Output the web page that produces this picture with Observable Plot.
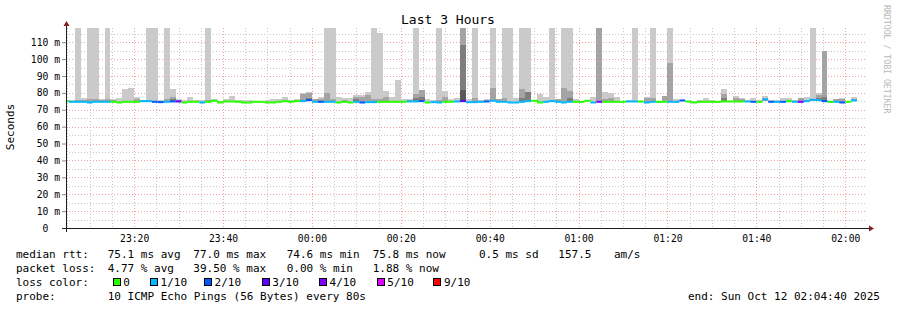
<!DOCTYPE html>
<html><head><meta charset="utf-8">
<script src="https://cdn.jsdelivr.net/npm/d3@7"></script>
<script src="https://cdn.jsdelivr.net/npm/@observablehq/plot@0.6"></script>
<style>
body{margin:0;background:#fff;}
#wrap{position:relative;width:897px;height:310px;overflow:hidden;background:#fff;}
#wrap svg{position:absolute;left:0;top:0;}
</style></head><body><div id="wrap"></div>
<script>
const _ = null;
// ---- data ----
const windowStart = "2025-10-11T23:04:40";
const windowEnd = "2025-10-12T02:04:40";
const firstBinStart = "2025-10-11T23:04:00";
const stepSeconds = 80;
const yMaxMs = 118.4;
// loss category per bin (0,1,2,3,4,5,9 tenths)
const lossCat = [
0,1,1,1,1,1,1,1,0,0, 0,0,0,1,1,2,2,1,2,3, 0,0,0,1,0,0,0,0,0,0,
0,0,0,0,0,0,0,0,0,0, 1,2,1,2,1,1,0,0,0,1, 2,1,1,0,0,0,0,0,1,1,
2,0,1,1,0,0,1,3,1,1, 1,2,1,1,1,1,1,1,1,0, 0,1,1,1,1,1,0,0,0,1,
4,0,0,0,0,1,1,0,1,1, 0,0,1,1,2,0,0,0,0,0, 0,0,0,0,0,1,2,0,1,2,
1,2,0,1,4,1,1,1,2,0, 1,2,0,1];
// median rtt per bin (ms)
const medianMs = [
75.4,75.0,75.0,75.0,74.6,75.0,75.0,75.0,75.0,74.6, 75.0,75.0,75.0,75.4,75.4,75.0,74.8,75.0,75.2,75.2,
74.6,75.0,75.0,74.6,75.0,75.6,74.6,75.2,75.2,75.0, 74.6,74.6,75.0,75.0,74.6,74.6,75.0,75.4,75.0,75.4,
75.4,76.0,75.0,75.0,75.0,75.0,74.6,75.0,74.6,75.0, 74.6,74.8,74.8,75.0,75.0,75.0,75.0,75.0,75.2,75.2,
75.4,74.6,74.8,74.6,75.0,75.0,75.2,75.4,74.8,74.8, 75.0,75.2,75.6,75.0,75.0,74.6,74.6,75.0,75.4,75.6,
74.6,75.0,75.4,75.0,74.6,75.0,75.0,75.0,75.6,74.6, 75.0,75.0,75.0,75.0,75.0,75.2,75.2,75.2,74.6,75.0,
75.0,75.0,75.0,75.0,75.8,75.2,74.6,75.0,75.0,75.0, 75.0,75.2,75.2,75.2,75.2,75.2,75.0,75.0,76.4,75.0,
75.0,75.0,75.4,75.0,75.0,75.4,76.2,76.0,75.4,75.0, 75.0,74.6,75.0,75.8];
// fastest ping per bin (ms)
const minMs = [
75.0,74.8,74.8,74.8,74.4,74.8,74.8,74.8,74.8,74.4, 74.8,74.8,74.8,74.6,75.0,74.8,74.6,74.8,75.0,75.0,
74.4,74.8,74.8,74.4,74.8,75.2,74.4,75.0,75.0,74.8, 74.4,74.4,74.8,74.8,74.4,74.4,74.8,75.0,74.8,75.0,
75.0,75.6,74.8,74.8,74.8,74.8,74.4,74.8,74.4,74.8, 74.4,74.6,74.6,74.8,74.8,74.8,74.8,74.8,75.0,75.0,
75.0,74.4,74.6,74.4,74.8,74.8,75.0,75.0,74.6,74.6, 74.8,75.0,75.2,74.8,74.8,74.4,74.4,74.8,75.0,75.2,
74.4,74.8,75.0,74.8,74.4,74.8,74.8,74.8,75.2,74.4, 74.8,74.8,74.8,74.8,74.8,75.0,75.0,75.0,74.2,74.8,
74.0,74.8,74.8,74.2,75.4,75.0,74.4,74.8,74.8,74.3, 74.2,75.0,75.0,75.0,75.0,75.0,74.8,74.8,75.0,74.8,
74.0,74.8,75.0,74.8,74.8,75.0,75.4,75.2,74.8,74.2, 74.8,74.2,74.8,75.4];
// smoke: top of outer band (slowest ping), values above the graph are > 118 ms
const smoke1 = [
75.8,75.8,130,77.0,130,130,76.4,130,76.4,76.8, 82.2,83.0,77.6,76.0,130,130,76.0,130,82.2,76.3,
75.8,77.6,75.8,75.8,130,76.2,75.4,76.4,78.3,75.8, 75.8,75.8,_,_,75.6,76.2,76.6,77.6,75.8,76.6,
80.0,80.6,76.6,77.6,130,130,77.6,77.0,77.0,79.0, 79.0,80.6,130,115.6,81.2,77.6,87.7,76.6,76.2,130,
81.8,76.2,75.6,130,81.2,76.6,77.0,130,76.4,130, 76.0,76.4,130,76.6,130,130,77.0,130,130,76.0,
79.6,77.6,130,76.6,130,130,76.2,_,_,77.6, 130,80.6,80.0,77.6,_,75.6,130,_,77.6,130,
75.4,78.3,130,76.2,76.0,_,_,76.0,76.8,76.0, 75.4,82.5,_,78.3,77.0,75.8,77.0,76.0,78.3,76.0,
75.6,77.0,76.8,75.8,77.0,77.6,130,80.0,104.8,75.4, 76.4,77.0,_,77.6];
// second band (2nd slowest ping)
const smoke2 = [
_,_,76.0,75.9,76.3,76.6,76.0,76.6,75.8,_, _,_,76.3,_,75.8,_,_,76.4,77.6,76.0,
_,_,_,_,76.0,_,_,_,_,_, _,_,_,_,_,_,_,_,_,_,
79.6,80.2,76.2,76.6,79.8,76.4,_,76.0,_,77.6, 77.6,79.0,76.6,76.6,77.6,_,_,_,75.8,79.2,
81.8,_,_,75.8,77.6,_,_,130,_,77.0, _,_,83.0,76.4,77.0,_,_,82.5,80.6,_,
_,_,76.0,76.2,82.6,81.2,_,_,_,_, 130,76.2,77.0,_,_,_,_,_,76.8,77.0,
_,78.3,97.7,_,_,_,_,_,_,_, _,79.2,_,77.0,76.5,_,_,_,77.0,_,
_,_,_,_,77.0,_,76.6,78.6,104.8,_, 76.4,76.6,_,76.4];
// third band
const smoke3 = [
_,_,_,_,_,_,_,_,_,_, _,_,_,_,_,_,_,_,76.5,_,
_,_,_,_,_,_,_,_,_,_, _,_,_,_,_,_,_,_,_,_,
_,77.0,_,_,_,_,_,_,_,76.4, _,_,_,_,_,_,_,_,_,77.0,
77.6,_,_,_,_,_,_,108.6,_,_, _,_,_,_,_,_,_,77.0,80.4,_,
_,_,_,_,_,77.0,_,_,_,_, _,_,_,_,_,_,_,_,_,_,
_,_,_,_,_,_,_,_,_,_, _,77.0,_,_,_,_,_,_,_,_,
_,_,_,_,_,_,_,77.0,77.6,_, _,_,_,_];
// fourth band
const smoke4 = [
_,_,_,_,_,_,_,_,_,_, _,_,_,_,_,_,_,_,_,_,
_,_,_,_,_,_,_,_,_,_, _,_,_,_,_,_,_,_,_,_,
_,_,_,_,_,_,_,_,_,_, _,_,_,_,_,_,_,_,_,_,
_,_,_,_,_,_,_,81.6,_,_, _,_,_,_,_,_,_,_,_,_,
_,_,_,_,_,_,_,_,_,_, _,_,_,_,_,_,_,_,_,_,
_,_,_,_,_,_,_,_,_,_, _,_,_,_,_,_,_,_,_,_,
_,_,_,_,_,_,_,_,_,_, _,_,_,_];
const majorTicks = ["2025-10-11T23:20","2025-10-11T23:40","2025-10-12T00:00","2025-10-12T00:20",
  "2025-10-12T00:40","2025-10-12T01:00","2025-10-12T01:20","2025-10-12T01:40","2025-10-12T02:00"];
const yMajor = [10,20,30,40,50,60,70,80,90,100,110];
const yMinor = [5,15,25,35,45,55,65,75,85,95,105,115];
const yTicks = [0,10,20,30,40,50,60,70,80,90,100,110];
const lossLevels = ["0","1/10","2/10","3/10","4/10","5/10","9/10"];
const lossKeys = [0,1,2,3,4,5,9];
const lossColors = ["#26ff00","#00b8ff","#0059ff","#5e00ff","#7e00ff","#dd00ff","#ff0000"];
const bandColors = ["#cacaca","#a4a4a4","#7e7e7e","#585858"];
const rttStats = ["75.1","77.0","74.6","75.8"];
const rttSd = "0.5";
const amS = "157.5";
const lossStats = ["4.77","39.50","0.00","1.88"];
const probeText = "10 ICMP Echo Pings (56 Bytes) every 80s";
const endText = "end: Sun Oct 12 02:04:40 2025";
const titleText = "Last 3 Hours";

// ---- build ----
const t0 = new Date(firstBinStart);
const colorOf = new Map(lossKeys.map((k,i)=>[k, lossColors[i]]));
const bins = medianMs.map((m,k)=>({
  t1: new Date(+t0 + k*stepSeconds*1000),
  t2: new Date(+t0 + (k+1)*stepSeconds*1000),
  med: m, prev: k ? medianMs[k-1] : m, sameAsPrev: k>0 && lossCat[k-1]===lossCat[k],
  loss: lossCat[k], lo: minMs[k]
}));
const bands = [smoke1, smoke2, smoke3, smoke4].map(arr =>
  bins.map((b,k)=>({...b, hi: arr[k]})).filter(d=>d.hi!=null));
const majorDates = majorTicks.map(s=>new Date(s));
const ws = new Date(windowStart), we = new Date(windowEnd);
const minorDates = d3.timeMinute.every(5).range(ws, we).filter(d=>d.getMinutes()%20!==0);
const FONT = "DejaVu Sans Mono";

function axesArrows(index, scales, values, dims) {
  const x0 = dims.marginLeft, x1 = dims.width - dims.marginRight;
  const yB = dims.height - dims.marginBottom, yT = dims.marginTop;
  const g = d3.create("svg:g");
  g.append("line").attr("x1", x0-4).attr("x2", x1+4).attr("y1", yB+0.5).attr("y2", yB+0.5)
    .attr("stroke","#1f1f1f").attr("shape-rendering","crispEdges");
  g.append("line").attr("x1", x0+0.5).attr("x2", x0+0.5).attr("y1", yB+4).attr("y2", yT-4)
    .attr("stroke","#1f1f1f").attr("shape-rendering","crispEdges");
  g.append("path").attr("d", `M${x1+3},${yB-2.5}L${x1+3},${yB+3.5}L${x1+8},${yB+0.5}Z`).attr("fill","#801f1f");
  g.append("path").attr("d", `M${x0-2.5},${yT-2}L${x0+3.5},${yT-2}L${x0+0.5},${yT-7}Z`).attr("fill","#801f1f");
  return g.node();
}

const chart = Plot.plot({
  width: 897, height: 250,
  marginLeft: 66, marginRight: 31, marginTop: 28, marginBottom: 22,
  style: {background: "transparent", fontFamily: FONT, fontSize: "9.7px", color: "#000"},
  x: {type: "time", domain: [ws, we]},
  y: {domain: [0, yMaxMs]},
  marks: [
    Plot.ruleY(yMinor, {stroke: "#c8c8c8", strokeDasharray: "1,2", shapeRendering: "crispEdges"}),
    Plot.ruleX(minorDates, {stroke: "#c8c8c8", strokeDasharray: "1,2", shapeRendering: "crispEdges"}),
    Plot.ruleY(yMajor, {stroke: "#f2a2a2", strokeDasharray: "1,2", shapeRendering: "crispEdges"}),
    Plot.ruleX(majorDates, {stroke: "#f2a2a2", strokeDasharray: "1,2", shapeRendering: "crispEdges"}),
    ...bands.map((band, i) => Plot.rect(band, {x1: "t1", x2: "t2", y1: "lo", y2: "hi",
      fill: bandColors[i], clip: true, shapeRendering: "crispEdges"})),
    Plot.ruleX(bins.filter(d=>d.sameAsPrev), {x: "t1", y1: "prev", y2: "med",
      stroke: d=>colorOf.get(d.loss), strokeWidth: 2, clip: true}),
    Plot.ruleY(bins, {x1: "t1", x2: "t2", y: "med", stroke: d=>colorOf.get(d.loss), strokeWidth: 2, clip: true}),
    Plot.axisX(majorDates, {tickSize: 0, tickPadding: 7, tickFormat: d3.timeFormat("%H:%M"),
      fontFamily: FONT, fontSize: 9.7, label: null}),
    Plot.axisY(yTicks, {tickSize: 4, tickPadding: 2.5, stroke: "#8a8a8a",
      tickFormat: v => v === 0 ? "0\u00a0\u00a0" : `${v} m`, fontFamily: FONT, fontSize: 9.7, label: null}),
    axesArrows
  ]
});
const wrap = document.getElementById("wrap");
wrap.appendChild(chart);

// overlay: title, unit label, legend, watermark
const ov = d3.select(wrap).append("svg").attr("width", 897).attr("height", 310)
  .style("pointer-events","none").attr("font-family", FONT).attr("xml:space","preserve");
ov.append("text").attr("x", 448).attr("y", 24).attr("text-anchor","middle").attr("font-size", 13).text(titleText);
ov.append("text").attr("transform","translate(14,127) rotate(-90)").attr("text-anchor","middle")
  .attr("font-size", 11).text("Seconds");
ov.append("text").attr("transform","translate(884,5) rotate(90)").attr("font-size", 8.2)
  .attr("fill","#b8b8b8").text("RRDTOOL / TOBI OETIKER");
const L = ov.append("g").attr("font-size", 11);
const row = (y, items) => items.forEach(([x, s]) => L.append("text").attr("x", x).attr("y", y).text(s));
row(258, [[16,"median rtt:"],[107.7,`${rttStats[0]} ms avg`],[193.3,`${rttStats[1]} ms max`],
  [286.7,`${rttStats[2]} ms min`],[372.7,`${rttStats[3]} ms now`],[479,`${rttSd} ms sd`],[558.3,amS],[614,"am/s"]]);
row(272, [[16,"packet loss:"],[107.7,`${lossStats[0]} % avg`],[193.3,`${lossStats[1]} % max`],
  [286.7,`${lossStats[2]} % min`],[372.7,`${lossStats[3]} % now`]]);
row(286, [[16,"loss color:"]]);
const boxX = [112.7,150,204,261.7,319,376.7,433.3];
lossLevels.forEach((lab,i)=>{
  L.append("rect").attr("x", Math.round(boxX[i])+0.5).attr("y", 278.5).attr("width", 7).attr("height", 7)
    .attr("fill", lossColors[i]).attr("stroke","#000");
  L.append("text").attr("x", boxX[i]+10.6).attr("y", 286).text(lab);
});
row(300, [[16,"probe:"],[107.7, probeText]]);
L.append("text").attr("x", 880).attr("y", 300).attr("text-anchor","end").text(endText);
</script></body></html>
